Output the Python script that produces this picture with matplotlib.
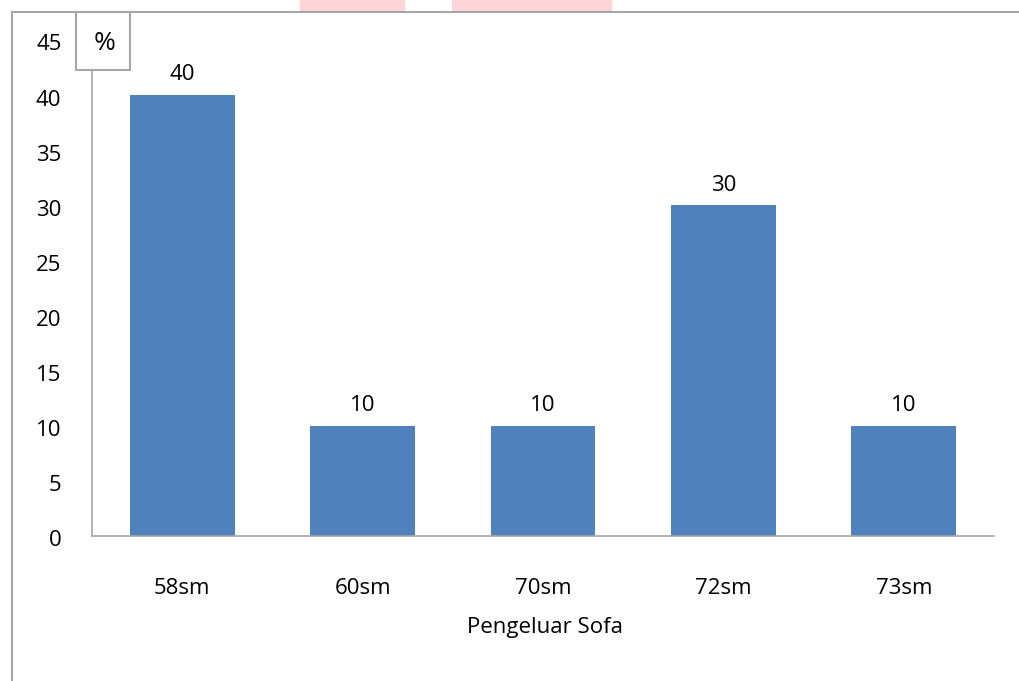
import matplotlib
matplotlib.use("Agg")
import matplotlib.pyplot as plt
from matplotlib.patches import Rectangle
from matplotlib.lines import Line2D
from matplotlib.transforms import ScaledTranslation

categories = ["58sm", "60sm", "70sm", "72sm", "73sm"]
values = [40, 10, 10, 30, 10]
yticks = [0, 5, 10, 15, 20, 25, 30, 35, 40, 45]
xlabel = "Pengeluar Sofa"
ylabel_box = "%"

W, H = 1019, 681
plt.rcParams['font.family'] = ['Open Sans', 'DejaVu Sans']
FS = 16
fig = plt.figure(figsize=(W / 100, H / 100), dpi=100)

def fx(px):
    return px / W

def fy(py):
    return 1 - py / H

# pink strips at top
for x0, x1 in [(300, 404), (452, 611)]:
    fig.patches.append(Rectangle((fx(x0), fy(11)), fx(x1 - x0), 11 / H,
                                 transform=fig.transFigure, color="#FFD5D8", zorder=0))

# outer border
gray = "#A6A6A6"
fig.add_artist(Line2D([fx(12), fx(12)], [fy(12), 0], transform=fig.transFigure, color=gray, lw=1.5))
fig.add_artist(Line2D([fx(12), 1], [fy(12), fy(12)], transform=fig.transFigure, color=gray, lw=1.5))

ax = fig.add_axes([fx(92), fy(536), fx(994 - 92), (536 - 40) / H])
x = list(range(len(categories)))
ax.bar(x, values, width=0.58, color="#4F81BD", zorder=2)
ax.set_xlim(-0.5, len(categories) - 0.5)
ax.set_ylim(0, 45)
ax.set_yticks(yticks)
ax.set_xticks(x)
ax.set_xticklabels(categories)
ax.tick_params(axis='both', length=0, labelsize=FS)
ax.tick_params(axis='x', pad=30)
ax.tick_params(axis='y', pad=22)
shift = ScaledTranslation(0, -5 / 100, fig.dpi_scale_trans)
for lbl in ax.get_yticklabels():
    lbl.set_va("center")
    lbl.set_transform(lbl.get_transform() + shift)
for s in ["top", "right"]:
    ax.spines[s].set_visible(False)
ax.spines["left"].set_color(gray)
ax.spines["bottom"].set_color(gray)
ax.spines["left"].set_linewidth(1.2)
ax.spines["bottom"].set_linewidth(1.2)
ax.spines["left"].set_bounds(0, 42.3)

for xi, v in zip(x, values):
    ax.annotate(str(v), (xi, v), xytext=(0, 7), textcoords="offset points",
                ha="center", va="bottom", fontsize=FS)

# % box
fig.patches.append(Rectangle((fx(76), fy(70)), fx(130 - 76), (70 - 12) / H,
                             transform=fig.transFigure, facecolor="white",
                             edgecolor=gray, lw=1.5, zorder=5))
fig.text(fx(105), fy(44), ylabel_box, ha="center", va="center", fontsize=19, zorder=6)

fig.text(fx(545), fy(628), xlabel, ha="center", va="center", fontsize=FS)

fig.savefig("out.png", dpi=100)
